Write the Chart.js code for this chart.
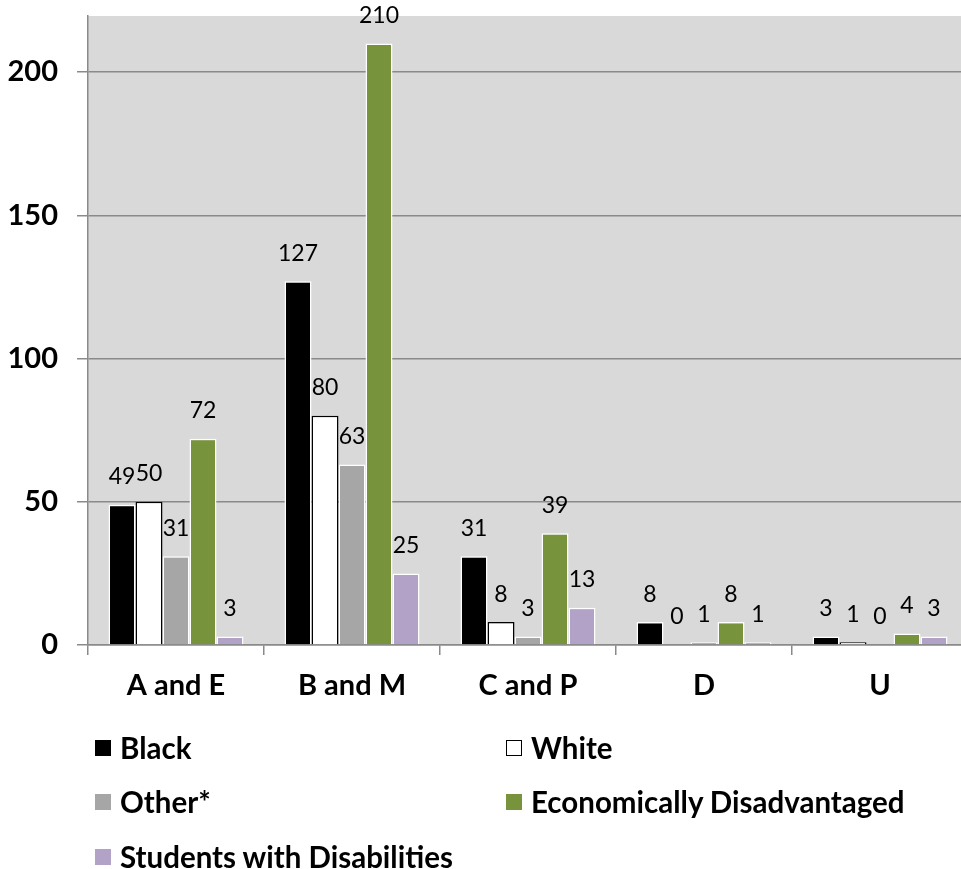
<!DOCTYPE html>
<html>
<head>
<meta charset="utf-8">
<script src="https://cdn.jsdelivr.net/npm/chart.js@4.4.1/dist/chart.umd.min.js"></script>
<style>
  html, body { margin: 0; padding: 0; background: #ffffff; overflow: hidden; }
  #wrap { position: relative; width: 975px; height: 869px; }
  #chart { position: absolute; left: 0; top: 0; }
  .legend-item { position: absolute; display: flex; align-items: center; font-family: Lato, "Open Sans", sans-serif; font-weight: bold; font-size: 29.5px; color: #000; white-space: nowrap; line-height: 1; }
  .legend-box { width: 16px; height: 16px; box-sizing: border-box; margin-right: 9px; flex: none; }
</style>
</head>
<body>
<div id="wrap">
  <canvas id="chart" width="975" height="869"></canvas>
</div>
<script>
// Categories and counts per group
const categories = ["A and E", "B and M", "C and P", "D", "U"];
const black      = [49, 127, 31, 8, 3];
const white      = [50, 80, 8, 0, 1];
const other      = [31, 63, 3, 1, 0];
const econDisadv = [72, 210, 39, 8, 4];
const disabled   = [3, 25, 13, 1, 3];
const yTicks     = [0, 50, 100, 150, 200];

const seriesNames  = ["Black", "White", "Other*", "Economically Disadvantaged", "Students with Disabilities"];
const seriesValues = [black, white, other, econDisadv, disabled];
const fills   = ["#000000", "#ffffff", "#a6a6a6", "#77933c", "#b3a2c7"];
const borders = ["#ffffff", "#000000", "#ffffff", "#ffffff", "#ffffff"];

const datasets = seriesNames.map((name, i) => ({
  label: name,
  data: seriesValues[i],
  backgroundColor: fills[i],
  borderColor: borders[i],
  borderWidth: 1.5,
  categoryPercentage: 0.767,
  barPercentage: 1.0
}));

// Grey plot background
const plotBackground = {
  id: 'plotBackground',
  beforeDraw(chart) {
    const { ctx, chartArea: a } = chart;
    ctx.save();
    ctx.fillStyle = '#d9d9d9';
    ctx.fillRect(a.left, a.top, a.right - a.left, a.bottom - a.top);
    ctx.restore();
  }
};

// Value labels above each bar
const valueLabels = {
  id: 'valueLabels',
  afterDatasetsDraw(chart) {
    const ctx = chart.ctx;
    ctx.save();
    ctx.font = '23px Lato, "Open Sans", sans-serif';
    ctx.fillStyle = '#000000';
    ctx.textAlign = 'center';
    ctx.textBaseline = 'middle';
    chart.data.datasets.forEach((ds, di) => {
      const meta = chart.getDatasetMeta(di);
      meta.data.forEach((el, idx) => {
        ctx.fillText(String(ds.data[idx]), el.x, el.y - 28);
      });
    });
    ctx.restore();
  }
};

const tickFont = { family: 'Lato, "Open Sans", sans-serif', size: 29, weight: 'bold' };

const chart = new Chart(document.getElementById('chart'), {
  type: 'bar',
  data: { labels: categories, datasets },
  plugins: [plotBackground, valueLabels],
  options: {
    responsive: false,
    animation: false,
    layout: { padding: { left: 0, top: 16, right: 7, bottom: 164 } },
    plugins: { legend: { display: false }, tooltip: { enabled: false } },
    scales: {
      x: {
        offset: true,
        grid: { offset: true, drawOnChartArea: false, drawTicks: true, tickLength: 10, color: '#8a8a8a', lineWidth: 1.5 },
        border: { display: true, color: '#8a8a8a', width: 1.5 },
        ticks: { color: '#000', padding: 13, font: tickFont },
        afterFit(scale) {
          scale.height = 60;
          scale.paddingLeft = 0; scale.paddingRight = 0;
        }
      },
      y: {
        min: 0,
        max: 219.6,
        afterBuildTicks(scale) { scale.ticks = yTicks.map(v => ({ value: v })); },
        grid: { drawOnChartArea: true, drawTicks: true, tickLength: 11, color: '#8a8a8a', lineWidth: 1.5 },
        border: { display: true, color: '#8a8a8a', width: 1.5 },
        ticks: { color: '#000', padding: 19, font: tickFont },
        afterFit(scale) {
          scale.width = 88;
          scale.paddingTop = 0; scale.paddingBottom = 0;
        }
      }
    }
  }
});

// Two-column legend under the plot
const legendPos = [
  { left: 95, top: 748 }, { left: 506, top: 748 },
  { left: 95, top: 802 }, { left: 506, top: 802 },
  { left: 95, top: 857 }
];
const wrap = document.getElementById('wrap');
seriesNames.forEach((name, i) => {
  const item = document.createElement('div');
  item.className = 'legend-item';
  item.style.left = legendPos[i].left + 'px';
  item.style.top = (legendPos[i].top - 15) + 'px';
  item.style.height = '30px';
  const box = document.createElement('span');
  box.className = 'legend-box';
  box.style.background = fills[i];
  if (fills[i] === '#ffffff') box.style.border = '1.5px solid #000';
  const txt = document.createElement('span');
  txt.textContent = name;
  item.appendChild(box);
  item.appendChild(txt);
  wrap.appendChild(item);
});
</script>
</body>
</html>
